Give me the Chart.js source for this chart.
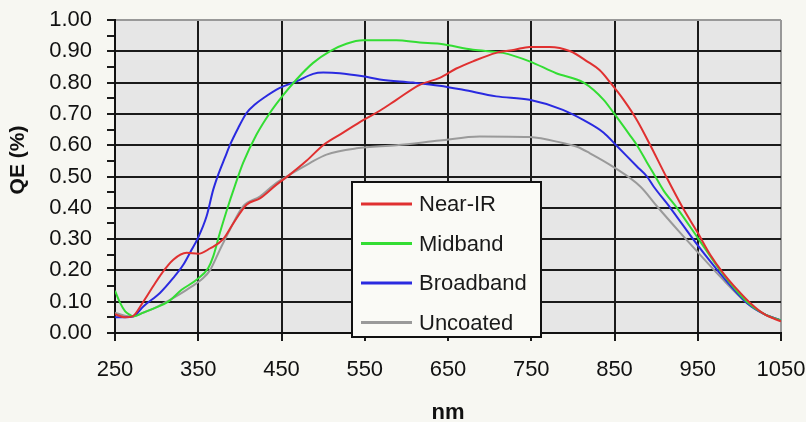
<!DOCTYPE html>
<html>
<head>
<meta charset="utf-8">
<script src="https://cdn.jsdelivr.net/npm/chart.js@4.4.1/dist/chart.umd.min.js"></script>
<style>
  html, body { margin: 0; padding: 0; background: #f7f7f2; }
  canvas { display: block; }
</style>
</head>
<body>
<canvas id="qeChart" width="806" height="422"></canvas>
<script>
// QE curves
const seriesNames = ['Near-IR', 'Midband', 'Broadband', 'Uncoated'];
const seriesColors = ['#e03030', '#33dd33', '#2a2ae0', '#9a9a9a'];

const nearIrNm = [250, 262, 271, 284, 296, 306, 320, 336, 350, 364, 380, 392, 408, 424, 444, 460, 480, 500, 524, 548, 568, 588, 616, 640, 660, 680, 708, 730, 748, 772, 797, 817, 832, 845, 861, 877, 893, 912, 932, 950, 965, 981, 997, 1013, 1030, 1050];
const nearIrQe = [0.06, 0.05, 0.053, 0.10, 0.15, 0.19, 0.234, 0.256, 0.253, 0.27, 0.30, 0.35, 0.41, 0.43, 0.474, 0.506, 0.55, 0.60, 0.64, 0.68, 0.71, 0.745, 0.793, 0.815, 0.845, 0.868, 0.895, 0.905, 0.914, 0.914, 0.90, 0.868, 0.84, 0.80, 0.745, 0.68, 0.60, 0.50, 0.40, 0.32, 0.25, 0.19, 0.14, 0.096, 0.06, 0.037];

const midbandNm = [250, 256, 262, 268, 272, 284, 296, 314, 330, 348, 362, 368, 376, 384, 394, 404, 420, 436, 452, 468, 488, 508, 528, 548, 588, 616, 640, 680, 716, 748, 780, 813, 837, 849, 869, 877, 889, 899, 909, 925, 951, 977, 1009, 1030, 1050];
const midbandQe = [0.135, 0.097, 0.07, 0.058, 0.053, 0.065, 0.078, 0.10, 0.138, 0.17, 0.208, 0.245, 0.32, 0.39, 0.47, 0.544, 0.634, 0.703, 0.76, 0.81, 0.863, 0.90, 0.924, 0.935, 0.935, 0.928, 0.924, 0.905, 0.895, 0.868, 0.83, 0.80, 0.745, 0.703, 0.63, 0.60, 0.545, 0.50, 0.455, 0.40, 0.30, 0.20, 0.10, 0.06, 0.04];

const broadbandNm = [250, 262, 272, 284, 304, 320, 332, 342, 349, 360, 368, 374, 382, 388, 398, 408, 418, 428, 448, 468, 488, 500, 520, 548, 568, 608, 640, 668, 708, 748, 788, 813, 837, 852, 877, 889, 897, 917, 948, 977, 1009, 1030, 1050];
const broadbandQe = [0.05, 0.05, 0.053, 0.085, 0.128, 0.176, 0.218, 0.266, 0.30, 0.373, 0.458, 0.506, 0.56, 0.60, 0.655, 0.703, 0.73, 0.75, 0.783, 0.804, 0.828, 0.832, 0.83, 0.82, 0.81, 0.80, 0.79, 0.777, 0.756, 0.745, 0.713, 0.68, 0.64, 0.60, 0.532, 0.50, 0.468, 0.40, 0.287, 0.19, 0.096, 0.06, 0.04];

const uncoatedNm = [250, 262, 271, 284, 298, 312, 336, 356, 364, 376, 388, 404, 424, 444, 460, 484, 504, 540, 588, 640, 688, 748, 788, 805, 820, 849, 881, 901, 929, 951, 977, 1009, 1030, 1050];
const uncoatedQe = [0.065, 0.055, 0.053, 0.065, 0.08, 0.10, 0.138, 0.176, 0.20, 0.266, 0.33, 0.405, 0.436, 0.48, 0.506, 0.543, 0.57, 0.59, 0.60, 0.615, 0.628, 0.626, 0.607, 0.595, 0.575, 0.53, 0.468, 0.405, 0.32, 0.255, 0.18, 0.096, 0.06, 0.04];

const nmTicks = [250, 350, 450, 550, 650, 750, 850, 950, 1050];
const qeMin = 0, qeMax = 1, qeStep = 0.05;

const seriesNm = [nearIrNm, midbandNm, broadbandNm, uncoatedNm];
const seriesQe = [nearIrQe, midbandQe, broadbandQe, uncoatedQe];

const FONT = '"Liberation Sans", Arial, sans-serif';

const isMajorQe = v => Math.round(v * 100) % 10 === 0;

// page + plot background
const backdrop = {
  id: 'backdrop',
  beforeDraw(chart) {
    const { ctx, chartArea: a } = chart;
    ctx.save();
    ctx.fillStyle = '#f7f7f2';
    ctx.fillRect(0, 0, chart.width, chart.height);
    ctx.fillStyle = '#e6e6e6';
    ctx.fillRect(a.left, a.top, a.right - a.left, a.bottom - a.top);
    ctx.restore();
  }
};

// legend box sitting inside the plot
const boxLegend = {
  id: 'boxLegend',
  afterDatasetsDraw(chart) {
    const c = chart.ctx;
    c.save();
    c.fillStyle = '#fafaf6';
    c.fillRect(352, 182, 189, 155);
    c.strokeStyle = '#111';
    c.lineWidth = 2;
    c.strokeRect(352, 182, 189, 155);
    chart.data.datasets.forEach((ds, i) => {
      const y = 204 + i * 39.5;
      c.strokeStyle = ds.borderColor;
      c.lineWidth = 3;
      c.beginPath();
      c.moveTo(361, y);
      c.lineTo(412, y);
      c.stroke();
      c.fillStyle = '#1a1a1a';
      c.font = '22px ' + FONT;
      c.textBaseline = 'middle';
      c.fillText(ds.label, 419, y + 1);
    });
    c.restore();
  }
};

// rotated y caption
const yCaption = {
  id: 'yCaption',
  afterDraw(chart) {
    const c = chart.ctx;
    c.save();
    c.translate(18, 160);
    c.rotate(-Math.PI / 2);
    c.font = 'bold 21px ' + FONT;
    c.fillStyle = '#111';
    c.textAlign = 'center';
    c.textBaseline = 'middle';
    c.fillText('QE (%)', 0, 0);
    c.restore();
  }
};

new Chart(document.getElementById('qeChart'), {
  type: 'line',
  data: {
    datasets: seriesNames.map((name, i) => ({
      label: name,
      data: seriesNm[i].map((nm, j) => ({ x: nm, y: seriesQe[i][j] })),
      borderColor: seriesColors[i],
      backgroundColor: seriesColors[i],
      borderWidth: 2,
      pointRadius: 0,
      cubicInterpolationMode: 'monotone',
      fill: false
    }))
  },
  options: {
    responsive: false,
    animation: false,
    devicePixelRatio: 1,
    layout: { padding: { top: 20, right: 25, left: 0, bottom: 0 } },
    plugins: {
      legend: { display: false },
      tooltip: { enabled: false }
    },
    scales: {
      x: {
        type: 'linear',
        min: 250,
        max: 1050,
        afterBuildTicks: s => { s.ticks = nmTicks.map(v => ({ value: v })); },
        afterFit: s => { s.height = 89; s.paddingLeft = 0; s.paddingRight = 0; },
        border: { display: true, color: '#111', width: 2 },
        grid: {
          color: c => (c.tick && c.tick.value === 1050 ? '#999' : '#1a1a1a'),
          tickColor: '#1a1a1a',
          lineWidth: 2,
          tickLength: 8
        },
        ticks: {
          autoSkip: false,
          maxRotation: 0,
          padding: 16,
          color: '#111',
          font: { family: FONT, size: 22 },
          callback: v => String(v)
        },
        title: {
          display: true,
          text: 'nm',
          color: '#111',
          font: { family: FONT, size: 22, weight: 'bold', lineHeight: 0.8 },
          padding: 0
        }
      },
      y: {
        min: qeMin,
        max: qeMax,
        afterFit: s => { s.width = 115; s.paddingTop = 0; s.paddingBottom = 0; },
        border: { display: true, color: '#111', width: 2 },
        grid: {
          color: c => {
            if (!c.tick) return '#1a1a1a';
            if (!isMajorQe(c.tick.value)) return 'rgba(0,0,0,0)';
            return c.tick.value >= 1 ? '#999' : '#1a1a1a';
          },
          tickColor: '#1a1a1a',
          lineWidth: 2,
          tickLength: 8
        },
        ticks: {
          stepSize: qeStep,
          autoSkip: false,
          padding: 15,
          color: '#111',
          font: { family: FONT, size: 22 },
          callback: v => (isMajorQe(v) ? v.toFixed(2) : '')
        }
      }
    }
  },
  plugins: [backdrop, boxLegend, yCaption]
});
</script>
</body>
</html>
